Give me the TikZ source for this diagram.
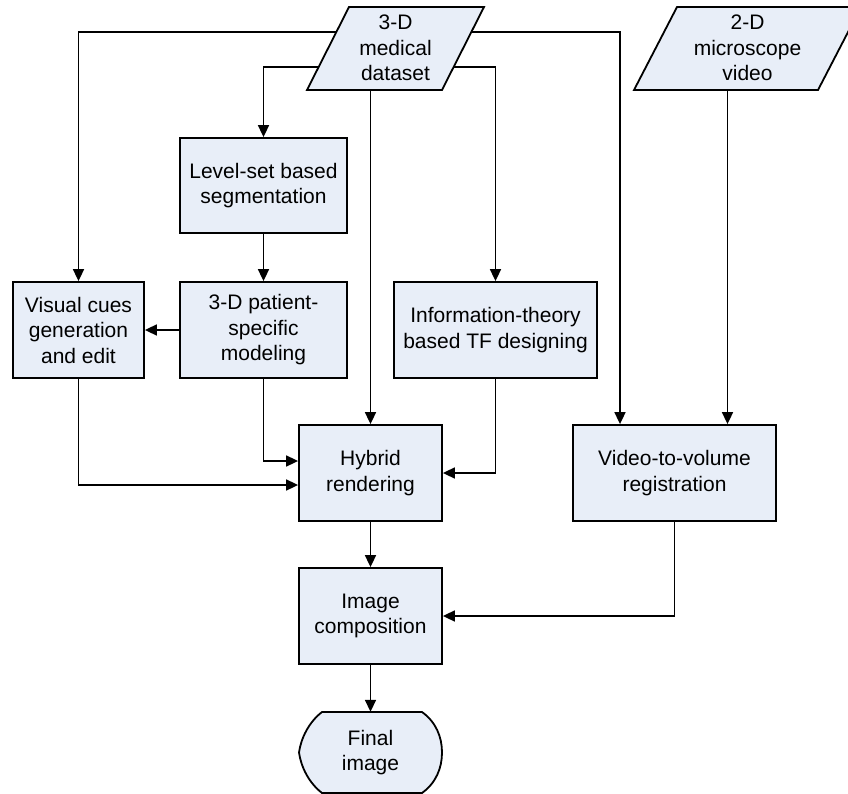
\documentclass[tikz,border=0pt]{standalone}
\usepackage{fontspec}
\setmainfont{Liberation Sans}
\usetikzlibrary{arrows.meta}
\definecolor{boxfill}{RGB}{232,238,248}
\begin{document}
\begin{tikzpicture}[x=1pt,y=-1pt,
  txt/.style={align=center, inner sep=0pt, font=\fontsize{21}{25.5}\selectfont},
  box/.style={txt, draw, line width=1.8pt, fill=boxfill},
  shapeline/.style={draw, line width=1.8pt, fill=boxfill, line join=miter},
  conn/.style={line width=1.7pt, -{Triangle[length=12pt,width=11pt]}}]
\useasboundingbox (0,0) rectangle (848,794);

% process boxes
\node[box, minimum width=167pt, minimum height=95pt] (lvl) at (263.5,185.5) {Level-set based\\segmentation};
\node[box, minimum width=167pt, minimum height=96pt] (pat) at (263.5,330) {3-D patient-\\specific\\modeling};
\node[box, minimum width=131pt, minimum height=96pt] (vis) at (78.5,330) {Visual cues\\generation\\and edit};
\node[box, minimum width=203pt, minimum height=96pt] (info) at (495.5,330) {Information-theory\\based TF designing};
\node[box, minimum width=143pt, minimum height=96pt] (hyb) at (370.5,473) {Hybrid\\rendering};
\node[box, minimum width=203pt, minimum height=96pt] (vid) at (674.5,473) {Video-to-volume\\registration};
\node[box, minimum width=143pt, minimum height=96pt] (comp) at (370.5,616) {Image\\composition};

% input parallelograms
\path[shapeline] (349,7) -- (484,7) -- (442,90) -- (307,90) -- cycle;
\node[txt] (ds) at (395.5,48) {3-D\\medical\\dataset};
\begin{scope}
\clip (0,0) rectangle (848,794);
\path[shapeline] (677,7) -- (861,7) -- (818,90) -- (634,90) -- cycle;
\end{scope}
\node[txt] (mv) at (747.5,48) {2-D\\microscope\\video};

% final display shape
\path[shapeline] (322,712) -- (422,712)
  .. controls (436,722) and (442,737) .. (442,752.5)
  .. controls (442,768) and (436,783) .. (422,793)
  -- (322,793)
  .. controls (309,783) and (301,767) .. (299,752.5)
  .. controls (301,738) and (309,722) .. (322,712) -- cycle;
\node[txt, minimum width=143pt, minimum height=81pt] (fin) at (370.5,752.5) {Final\\image};

% connector end points on the parallelogram edges
\coordinate (dsL1) at (336.4,32);
\coordinate (dsL2) at (318.6,67);
\coordinate (dsR1) at (471.4,32);
\coordinate (dsR2) at (453.6,67);
\coordinate (dsB) at (370.5,90);
\coordinate (mvB) at (727.5,90);

% connectors
\draw[conn] (dsL1) -| (vis.north);
\draw[conn] (dsL2) -| (lvl.north);
\draw[conn] (dsR2) -| (info.north);
\draw[conn] (dsR1) -| ([xshift=-54.5pt]vid.north);
\draw[conn] (dsB) -- (hyb.north);
\draw[conn] (mvB) -- (mvB |- vid.north);
\draw[conn] (lvl) -- (pat);
\draw[conn] (pat.west) -- (vis.east);
\draw[conn] (pat.south) |- ([yshift=12pt]hyb.west);
\draw[conn] (vis.south) |- ([yshift=-12pt]hyb.west);
\draw[conn] (info.south) |- (hyb.east);
\draw[conn] (hyb) -- (comp);
\draw[conn] (vid.south) |- (comp.east);
\draw[conn] (comp) -- (fin.north);
\end{tikzpicture}
\end{document}
